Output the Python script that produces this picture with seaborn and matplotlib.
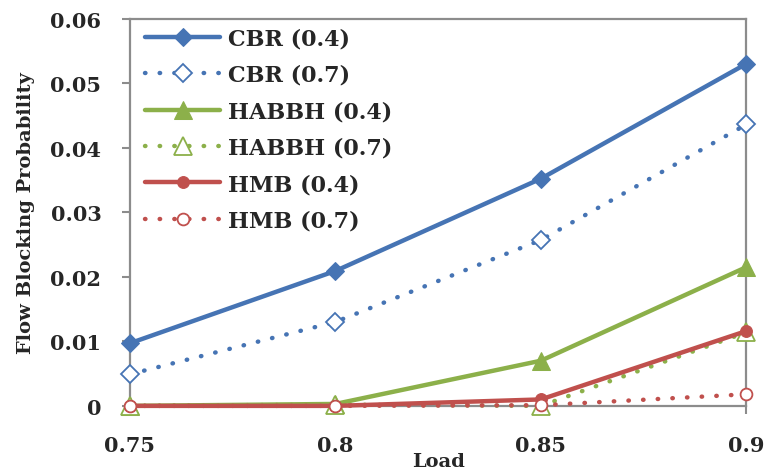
import matplotlib
matplotlib.use("Agg")
import matplotlib.pyplot as plt
import seaborn as sns
import pandas as pd

load = [0.75, 0.8, 0.85, 0.9]
cbr_04 = [0.0097, 0.0209, 0.0352, 0.0530]
cbr_07 = [0.0049, 0.0130, 0.0257, 0.0436]
habbh_04 = [0.0, 0.0003, 0.0070, 0.0215]
habbh_07 = [0.0, 0.0002, 0.0, 0.0114]
hmb_04 = [0.0, 0.0, 0.0010, 0.0116]
hmb_07 = [0.0, 0.0, 0.0001, 0.0018]

series_names = ["CBR (0.4)", "CBR (0.7)", "HABBH (0.4)", "HABBH (0.7)", "HMB (0.4)", "HMB (0.7)"]
series_vals = [cbr_04, cbr_07, habbh_04, habbh_07, hmb_04, hmb_07]
x_labels = ["0.75", "0.8", "0.85", "0.9"]
y_ticks = [0, 0.01, 0.02, 0.03, 0.04, 0.05, 0.06]
y_labels = ["0", "0.01", "0.02", "0.03", "0.04", "0.05", "0.06"]

sns.set_theme(style="white")
plt.rcParams['font.family'] = ['DejaVu Serif', 'Liberation Serif']
plt.rcParams['font.weight'] = 'bold'

blue = "#4674B4"
green = "#8CB04A"
red = "#C0504D"
dot = (0, (0.1, 3.2))
styles = [
    dict(color=blue, ls="-", lw=3.2, marker="D", ms=9, mfc=blue, mec=blue),
    dict(color=blue, ls=dot, lw=3.2, marker="D", ms=9, mfc="white", mec=blue, mew=1.3),
    dict(color=green, ls="-", lw=3.2, marker="^", ms=13, mfc=green, mec=green),
    dict(color=green, ls=dot, lw=3.2, marker="^", ms=13, mfc="white", mec=green, mew=1.3),
    dict(color=red, ls="-", lw=3.2, marker="o", ms=8.5, mfc=red, mec=red),
    dict(color=red, ls=dot, lw=3.2, marker="o", ms=8.5, mfc="white", mec=red, mew=1.3),
]

fig = plt.figure(figsize=(7.64, 4.77), dpi=100)
ax = fig.add_axes([0.170, 0.147, 0.807, 0.812])

for name, vals, st in zip(series_names, series_vals, styles):
    df = pd.DataFrame({"Load": load, "P": vals})
    st = dict(st)
    color = st.pop("color")
    ls = st.pop("ls")
    lw = st.pop("lw")
    sns.lineplot(data=df, x="Load", y="P", ax=ax, color=color, linestyle=ls,
                 linewidth=lw, label=name, clip_on=False, zorder=3,
                 dash_capstyle="round", solid_capstyle="round", **st)

ax.set_xlim(0.75, 0.9)
ax.set_ylim(0, 0.06)
ax.set_xticks(load)
ax.set_xticklabels(x_labels)
ax.set_yticks(y_ticks)
ax.set_yticklabels(y_labels)
ax.tick_params(axis="both", labelsize=15, length=6, width=1.5, color="#8c8c8c",
               direction="out", pad=14.5, left=True, bottom=True)
ax.tick_params(axis="x", pad=15)
for lab in ax.get_xticklabels() + ax.get_yticklabels():
    lab.set_fontweight("bold")
ax.set_xlabel("Load", fontsize=14, fontweight="bold", labelpad=-2)
ax.set_ylabel("Flow Blocking Probability", fontsize=14, fontweight="bold", labelpad=11)

for sp in ["left", "bottom", "top", "right"]:
    ax.spines[sp].set_visible(True)
    ax.spines[sp].set_color("#8c8c8c")
    ax.spines[sp].set_linewidth(1.6)

leg = ax.legend(loc="upper left", frameon=False, fontsize=16, handlelength=3.4,
                borderaxespad=0.0, labelspacing=0.65, handletextpad=0.35,
                bbox_to_anchor=(0.01, 1.0))
for t in leg.get_texts():
    t.set_fontweight("bold")

fig.savefig("out.png", dpi=100)
